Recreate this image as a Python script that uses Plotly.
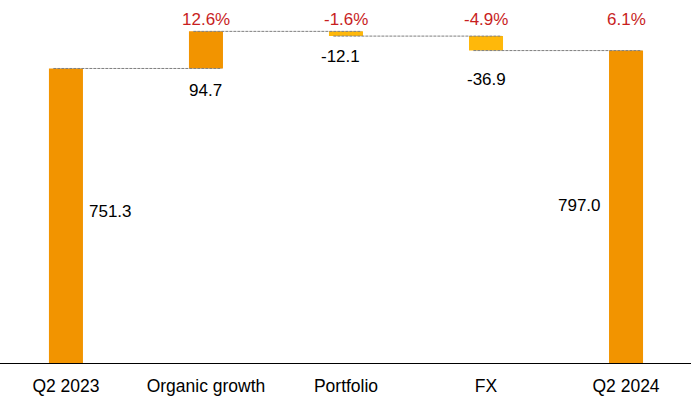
import plotly.graph_objects as go

categories = ["Q2 2023", "Organic growth", "Portfolio", "FX", "Q2 2024"]
values = [751.3, 94.7, -12.1, -36.9, 797.0]
measures = ["absolute", "relative", "relative", "relative", "total"]
value_labels = ["751.3", "94.7", "-12.1", "-36.9", "797.0"]
pct_labels = ["", "12.6%", "-1.6%", "-4.9%", "6.1%"]

ORANGE = "#F29400"
YELLOW = "#FFB80A"
RED = "#C81E1E"
FONT = "Liberation Sans, Arial, sans-serif"

xs = list(range(len(categories)))
bar_w = 0.243

# cumulative levels
levels = []
run = 0.0
for v, m in zip(values, measures):
    if m == "absolute":
        run = v
    elif m == "relative":
        run += v
    levels.append(run)

fig = go.Figure()
fig.add_trace(go.Waterfall(
    x=xs, y=values, measure=measures, width=[bar_w] * len(xs),
    increasing=dict(marker=dict(color=ORANGE)),
    decreasing=dict(marker=dict(color=YELLOW)),
    totals=dict(marker=dict(color=ORANGE)),
    connector=dict(visible=False),
    textinfo="none", hoverinfo="skip", showlegend=False,
))

# dashed connectors spanning from previous bar to the next bar
for i in range(len(xs) - 1):
    fig.add_shape(type="line", xref="x", yref="y",
                  x0=xs[i] - 0.09, x1=xs[i + 1] + bar_w / 2 - 0.01,
                  y0=levels[i], y1=levels[i],
                  line=dict(color="#7F7F7F", width=1, dash="3px,1px"),
                  layer="above")

# value labels
fig.add_annotation(x=xs[0], y=levels[0] / 2, text=value_labels[0], showarrow=False,
                   xshift=45, yshift=4, font=dict(size=17, color="#000", family=FONT))
shifts = {1: (0, -22), 2: (-5, -20), 3: (0, -29)}
for i in (1, 2, 3):
    bottom = min(levels[i], levels[i - 1])
    fig.add_annotation(x=xs[i], y=bottom, text=value_labels[i], showarrow=False,
                       xshift=shifts[i][0], yshift=shifts[i][1],
                       font=dict(size=17, color="#000", family=FONT))
fig.add_annotation(x=xs[4], y=levels[4] / 2, text=value_labels[4], showarrow=False,
                   xshift=-47, yshift=1, font=dict(size=17, color="#000", family=FONT))

# percentage labels at top
for i, t in enumerate(pct_labels):
    if t:
        fig.add_annotation(x=xs[i], y=0.946, yref="paper", yanchor="middle", text=t,
                           showarrow=False, font=dict(size=17, color=RED, family=FONT))

fig.update_layout(
    width=691, height=400,
    margin=dict(l=0, r=0, t=0, b=37),
    paper_bgcolor="white", plot_bgcolor="white",
    font=dict(family=FONT, size=17, color="#000"),
    xaxis=dict(range=[-0.471, 4.464], tickmode="array", tickvals=xs, ticktext=categories,
               showgrid=False, zeroline=False, showline=True, linecolor="#000", linewidth=1,
               ticks="", ticklabelstandoff=7,
               tickfont=dict(size=17.5, color="#000", family=FONT)),
    yaxis=dict(range=[0, 926], visible=False, showgrid=False, zeroline=False),
)

fig.write_html("out.html", config={"displayModeBar": False},
               post_script="document.body.style.margin='0';document.body.style.overflow='hidden';")
